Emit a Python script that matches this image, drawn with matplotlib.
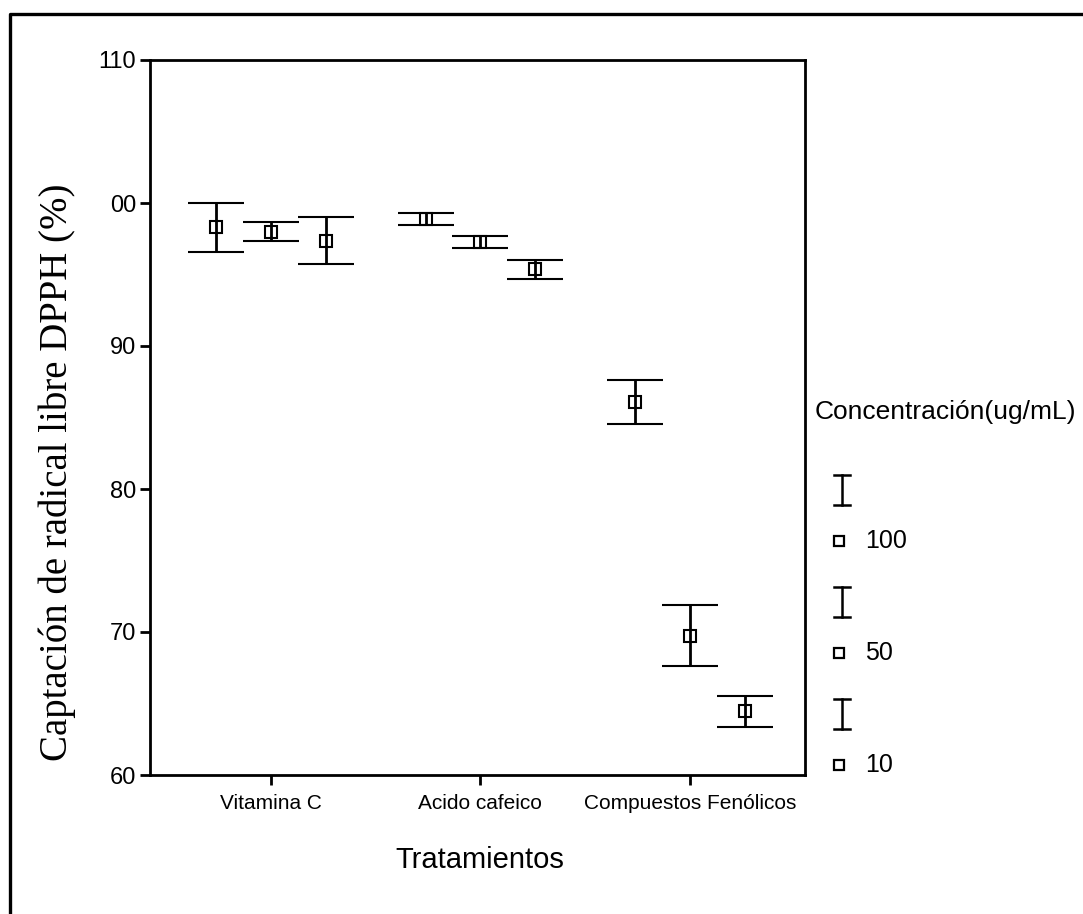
import matplotlib.pyplot as plt
from matplotlib.lines import Line2D

# data
tratamientos = ["Vitamina C", "Acido cafeico", "Compuestos Fenólicos"]
concentraciones = ["100", "50", "10"]
medias = {
    "100": [98.3, 98.9, 86.1],
    "50": [98.0, 97.27, 69.75],
    "10": [97.35, 95.35, 64.45],
}
errores = {
    "100": [1.7, 0.42, 1.55],
    "50": [0.65, 0.42, 2.15],
    "10": [1.65, 0.65, 1.1],
}
yticks = [60, 70, 80, 90, 100, 110]
ytick_labels = ["60", "70", "80", "90", "00", "110"]

W, H = 1083, 914
fig = plt.figure(figsize=(W / 100, H / 100), dpi=100)
ax = fig.add_axes([150 / W, 1 - 775 / H, 655 / W, 715 / H])

offsets = [-0.262, 0.0, 0.262]
for conc, off in zip(concentraciones, offsets):
    xs = [i + 1 + off for i in range(len(tratamientos))]
    ax.errorbar(xs, medias[conc], yerr=errores[conc], fmt="s", color="black",
                mfc="none", mec="black", ms=8.5, mew=1.5,
                elinewidth=2.0, capsize=20, capthick=2.2)

ax.set_xlim(0.424, 3.548)
ax.set_ylim(60, 110)
ax.set_yticks(yticks)
ax.set_yticklabels(ytick_labels, fontsize=17, family="Liberation Sans")
ax.set_xticks([1, 2, 3])
ax.set_xticklabels(tratamientos, fontsize=15,
                   family=["Liberation Sans Narrow", "Liberation Sans"])
ax.tick_params(axis="both", direction="out", length=7, width=2)
ax.tick_params(axis="y", pad=3)
ax.tick_params(axis="x", pad=7)
for s in ax.spines.values():
    s.set_linewidth(2)

fig.text(57 / W, 1 - 472 / H, "Captación de radical libre DPPH (%)",
         fontsize=28, family="Liberation Serif", rotation=90,
         ha="center", va="center")
fig.text(480 / W, 1 - 860 / H, "Tratamientos", fontsize=21,
         family="Liberation Sans", ha="center", va="center")

# overlay in pixel coordinates for frame and legend
ov = fig.add_axes([0, 0, 1, 1])
ov.set_xlim(0, W)
ov.set_ylim(H, 0)
ov.axis("off")
ov.add_line(Line2D([10, 10, W], [H, 14, 14], color="black", lw=2.4))

ov.text(815, 412, "Concentración(ug/mL)", fontsize=19, family="Liberation Sans",
        ha="left", va="center")
for k, lab in enumerate(concentraciones):
    yc = 490 + k * 112
    ov.add_line(Line2D([842, 842], [yc - 15, yc + 15], color="black", lw=1.8))
    ov.add_line(Line2D([834, 850], [yc - 15, yc - 15], color="black", lw=1.8))
    ov.add_line(Line2D([834, 850], [yc + 15, yc + 15], color="black", lw=1.8))
    ys = yc + 51
    ov.plot([839], [ys], "s", mfc="none", mec="black", ms=6.5, mew=1.6)
    ov.text(865, ys, lab, fontsize=18, family="Liberation Sans",
            ha="left", va="center")

fig.savefig("out.png", dpi=100)
